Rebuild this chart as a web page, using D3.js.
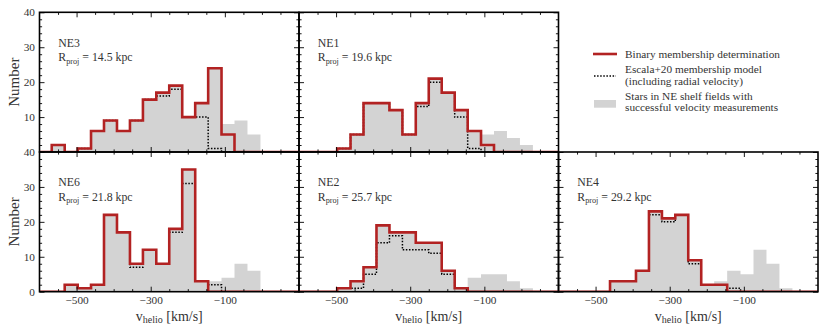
<!DOCTYPE html>
<html><head><meta charset="utf-8">
<script src="https://cdn.jsdelivr.net/npm/d3@7"></script>
<style>
body{margin:0;background:#fff}
svg{display:block}
text{font-family:"Liberation Serif","Times New Roman",serif}
</style>
</head><body>
<svg id="c" width="830" height="332"></svg>
<script>
// ---- data ----
const binEdges = [-567,-532,-497,-461,-426,-391,-356,-321,-285,-250,-215,-180,-145,-109,-74,-39,-4,31,67];
const panelNames = ["NE3","NE1","NE6","NE2","NE4"];
const panelRproj = ["14.5","19.6","21.8","25.7","29.2"];
// all stars with velocities (gray)
const grayNE3 = [2,0,1,6,9,6,9,15,17,19,10,14,24,8,9,5,0,0];
const grayNE1 = [0,0,1,5,14,14,12,5,14,21,17,12,6,5,6,4,2,0];
const grayNE6 = [0,2,1,2,22,17,8,12,8,18,35,3,3,4,8,6,0,0];
const grayNE2 = [0,0,1,3,7,19,17,17,14,14,6,1,4,5,5,3,1,0];
const grayNE4 = [0,0,0,3,3,6,23,21,22,9,2,3,6,5,12,8,1,0];
// binary membership determination (red)
const redNE3 = [2,0,1,6,9,6,9,15,17,19,10,14,24,5,0,0,0,0];
const redNE1 = [0,0,1,5,14,14,12,5,14,21,17,12,6,2,0,0,0,0];
const redNE6 = [0,2,1,2,22,17,8,12,8,18,35,3,0,0,0,0,0,0];
const redNE2 = [0,0,1,3,7,19,17,17,14,14,6,1,0,0,0,0,0,0];
const redNE4 = [0,0,0,3,3,6,23,21,22,9,2,2,0,0,0,0,0,0];
// Escala+20 membership model (dotted)
const dotNE3 = [2,0,1,6,9,6,9,15,16,18,10,10,1,0,0,0,0,0];
const dotNE1 = [0,0,1,5,14,14,12,5,13,20,17,10,1,0,0,0,0,0];
const dotNE6 = [0,2,1,2,22,17,7,12,8,17,31,3,2,0,0,0,0,0];
const dotNE2 = [0,0,1,1,5,14,16,12,12,11,5,0,0,0,0,0,0,0];
const dotNE4 = [0,0,0,3,3,6,22,20,22,8,2,2,1,0,0,0,0,0];
const xDomain = [-600,100];
const yDomain = [0,40];
const xMajorTicks = [-500,-300,-100];
const xMinorTicks = [-550,-450,-400,-350,-250,-200,-150,-50,0,50];
const yMajorTicks = [0,10,20,30,40];
const yMinorTicks = [2,4,6,8,12,14,16,18,22,24,26,28,32,34,36,38];
const legendLabels = [["Binary membership determination"],["Escala+20 membership model","(including radial velocity)"],["Stars in NE shelf fields with","successful velocity measurements"]];

const grays=[grayNE3,grayNE1,grayNE6,grayNE2,grayNE4];
const reds=[redNE3,redNE1,redNE6,redNE2,redNE4];
const dots=[dotNE3,dotNE1,dotNE6,dotNE2,dotNE4];
const grid=[[0,0],[1,0],[0,1],[1,1],[2,1]];

// ---- layout ----
const L=39.5, W=259.5, T=12.3, H=139.7;
const RED="#b22222", GRAY="#d3d3d3", TXT="#333";
const FONT='"Liberation Serif","Times New Roman",serif';
const svg=d3.select("#c");

function stepPts(counts){
  const p=[[xDomain[0],0]];
  counts.forEach((c,i)=>p.push([binEdges[i],c]));
  p.push([binEdges[counts.length],0]);
  p.push([xDomain[1],0]);
  return p;
}

panelNames.forEach((name,i)=>{
  const [col,row]=grid[i];
  const x0=L+col*W, y0=T+row*H;
  const x=d3.scaleLinear().domain(xDomain).range([x0,x0+W]);
  const y=d3.scaleLinear().domain(yDomain).range([y0+H,y0]);
  const g=svg.append("g");
  const cid="clip"+i;
  svg.append("clipPath").attr("id",cid).append("rect").attr("x",x0).attr("y",y0).attr("width",W).attr("height",H);
  const pg=g.append("g").attr("clip-path",`url(#${cid})`);
  const area=d3.area().x(d=>x(d[0])).y0(y(0)).y1(d=>y(d[1])).curve(d3.curveStepAfter);
  const line=d3.line().x(d=>x(d[0])).y(d=>y(d[1])).curve(d3.curveStepAfter);
  pg.append("path").attr("d",area(stepPts(grays[i]))).attr("fill",GRAY);
  pg.append("path").attr("d",line(stepPts(dots[i]))).attr("fill","none").attr("stroke","#000").attr("stroke-width",1.5).attr("stroke-dasharray","1.5,1.6");
  pg.append("path").attr("d",line(stepPts(reds[i]))).attr("fill","none").attr("stroke",RED).attr("stroke-width",2.6).attr("stroke-linejoin","miter");

  // ticks (inward)
  const mk=(axis,tr)=>{const a=g.append("g").attr("transform",tr).call(axis);a.select(".domain").remove();a.selectAll("line").attr("stroke","#000").attr("stroke-width",0.9);return a;};
  const showX=row===1, showY=col===0;
  const xb=mk(d3.axisBottom(x).tickValues(xMajorTicks).tickSize(-5).tickPadding(3.8).tickFormat(showX?d3.format("d"):()=>""),`translate(0,${y0+H})`);
  mk(d3.axisBottom(x).tickValues(xMinorTicks).tickSize(-2.6).tickFormat(()=>""),`translate(0,${y0+H})`);
  mk(d3.axisTop(x).tickValues(xMajorTicks).tickSize(-5).tickFormat(()=>""),`translate(0,${y0})`);
  mk(d3.axisTop(x).tickValues(xMinorTicks).tickSize(-2.6).tickFormat(()=>""),`translate(0,${y0})`);
  const yl=mk(d3.axisLeft(y).tickValues(row===0?yMajorTicks.slice(1):yMajorTicks).tickSize(-5).tickPadding(4.5).tickFormat(showY?d3.format("d"):()=>""),`translate(${x0},0)`);
  mk(d3.axisLeft(y).tickValues(yMinorTicks).tickSize(-2.6).tickFormat(()=>""),`translate(${x0},0)`);
  mk(d3.axisRight(y).tickValues(yMajorTicks).tickSize(-5).tickFormat(()=>""),`translate(${x0+W},0)`);
  mk(d3.axisRight(y).tickValues(yMinorTicks).tickSize(-2.6).tickFormat(()=>""),`translate(${x0+W},0)`);
  [xb,yl].forEach(a=>a.selectAll("text").attr("font-size",11.3).attr("fill",TXT));

  // frame
  g.append("rect").attr("x",x0).attr("y",y0).attr("width",W).attr("height",H).attr("fill","none").attr("stroke","#000").attr("stroke-width",1.6);

  // panel labels
  g.append("text").attr("x",x0+18.8).attr("y",y0+34.4).attr("font-size",11.8).attr("fill",TXT).text(name);
  const t=g.append("text").attr("x",x0+18.8).attr("y",y0+48.7).attr("font-size",11.8).attr("fill",TXT);
  t.append("tspan").text("R");
  t.append("tspan").attr("font-size",8.2).attr("dy",2.5).text("proj");
  t.append("tspan").attr("dy",-2.5).text(" = "+panelRproj[i]+" kpc");

  if(showY){
    g.append("text").attr("transform",`translate(19,${y0+H/2}) rotate(-90)`).attr("text-anchor","middle").attr("font-size",15).attr("fill",TXT).text("Number");
  }
  if(showX){
    const xt=g.append("text").attr("x",x0+W/2).attr("y",320.5).attr("text-anchor","middle").attr("font-size",14).attr("fill",TXT);
    xt.append("tspan").text("v");
    xt.append("tspan").attr("font-size",10).attr("dy",2.5).text("helio");
    xt.append("tspan").attr("dy",-2.5).text(" [km/s]");
  }
});

// legend
const lg=svg.append("g");
lg.append("line").attr("x1",593).attr("x2",617).attr("y1",54).attr("y2",54).attr("stroke",RED).attr("stroke-width",2.6);
lg.append("line").attr("x1",594).attr("x2",616).attr("y1",76).attr("y2",76).attr("stroke","#000").attr("stroke-width",1.5).attr("stroke-dasharray","1.5,1.6");
lg.append("rect").attr("x",594).attr("y",100).attr("width",22).attr("height",7.7).attr("fill",GRAY);
const lgY=[[58],[73.3,84.6],[99.8,111]];
legendLabels.forEach((lines,i)=>lines.forEach((s,j)=>{
  lg.append("text").attr("x",625).attr("y",lgY[i][j]).attr("font-size",11.3).attr("fill",TXT).text(s);
}));

svg.selectAll("text").style("font-family",FONT);
</script>
</body></html>
